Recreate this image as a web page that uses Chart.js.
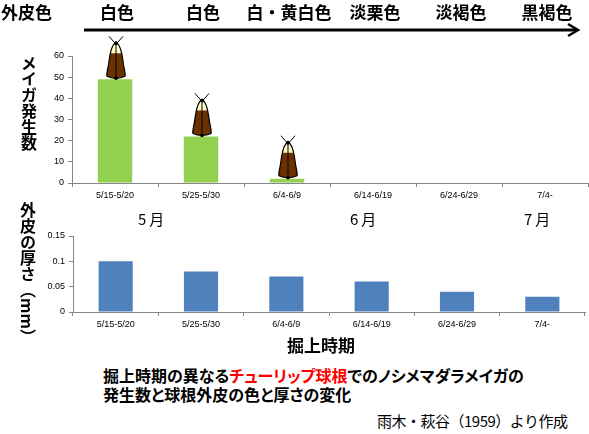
<!DOCTYPE html>
<html>
<head>
<meta charset="utf-8">
<script src="https://cdn.jsdelivr.net/npm/chart.js@4.4.1/dist/chart.umd.min.js"></script>
<style>
  html, body { margin: 0; padding: 0; background: #fff; }
  #wrap { position: relative; width: 589px; height: 434px; overflow: hidden; font-family: "Noto Sans CJK JP", sans-serif; }
  #wrap canvas { position: absolute; left: 0; }
  .txt { position: absolute; white-space: nowrap; color: #000; line-height: 1; font-feature-settings: "palt"; }
  .vert { writing-mode: vertical-rl; font-weight: bold; font-size: 16px; letter-spacing: 0px; }
  .month { font-size: 15px; letter-spacing: 3px; }
  .red { color: #ff0000; }
</style>
</head>
<body>
<div id="wrap">
  <canvas id="countChart"></canvas>
  <canvas id="skinChart"></canvas>

  <div class="txt vert" style="left:21px; top:55px;">メイガ発生数</div>
  <div class="txt vert" style="left:20px; top:202px;">外皮の厚さ（mm）</div>

  <div class="txt month" style="left:138px; top:211px;">5月</div>
  <div class="txt month" style="left:350px; top:211px;">6月</div>
  <div class="txt month" style="left:524px; top:211px;">7月</div>

  <div class="txt" style="left:287px; top:336px; font-size:17px; font-weight:bold;">掘上時期</div>

  <div class="txt" style="left:103px; top:367px; font-size:16px; font-weight:bold;">掘上時期の異なる<span class="red">チューリップ球根</span>でのノシメマダラメイガの</div>
  <div class="txt" style="left:103px; top:386px; font-size:16px; font-weight:bold;">発生数と球根外皮の色と厚さの変化</div>

  <div class="txt" style="left:377px; top:413px; font-size:15px; letter-spacing:-0.5px; font-feature-settings: normal;">雨木・萩谷（1959）より作成</div>
</div>

<script>
// 掘上時期
const periods = ["5/15-5/20", "5/25-5/30", "6/4-6/9", "6/14-6/19", "6/24-6/29", "7/4-"];
// 外皮色
const skinColours = ["白色", "白色", "白・黄白色", "淡栗色", "淡褐色", "黒褐色"];
// メイガ発生数
const mothCounts = [49, 22, 2, 0, 0, 0];
// 外皮の厚さ (mm)
const skinThickness = [0.10, 0.08, 0.07, 0.06, 0.04, 0.03];

const countMax = 60, countStep = 10;
const thickMax = 0.15, thickStep = 0.05;

const axisGrey = "#868686";
const tickFont = { family: "'Liberation Sans', Arial, sans-serif", size: 9 };

function setupCanvas(id, top, w, h) {
    const c = document.getElementById(id);
    c.style.top = top + "px";
    c.style.width = w + "px";
    c.style.height = h + "px";
    c.width = w;
    c.height = h;
    return c;
}

// moth drawn on top of each non-empty bar
function drawMoth(ctx, cx, y) {
    ctx.save();
    ctx.translate(cx + 1, y);

    const body = new Path2D();
    body.moveTo(0, -37);
    body.bezierCurveTo(-4, -35, -6, -26, -7, -18);
    body.bezierCurveTo(-8, -10, -10, -5, -9, -3);
    body.quadraticCurveTo(-5, -1, 0, -1);
    body.quadraticCurveTo(5, -1, 9, -3);
    body.bezierCurveTo(10, -5, 8, -10, 7, -18);
    body.bezierCurveTo(6, -26, 4, -35, 0, -37);
    body.closePath();

    ctx.fillStyle = "#6b3200";
    ctx.fill(body);
    ctx.save();
    ctx.clip(body);
    ctx.fillStyle = "#fff8c8";
    ctx.fillRect(-12, -40, 24, 14);
    ctx.restore();

    ctx.strokeStyle = "#000";
    ctx.lineWidth = 1.2;
    ctx.stroke(body);

    ctx.beginPath();
    ctx.moveTo(0, -36);
    ctx.lineTo(0, 0);
    ctx.moveTo(0, -35);
    ctx.lineTo(-7, -43);
    ctx.moveTo(0, -35);
    ctx.lineTo(7, -43);
    ctx.lineWidth = 1;
    ctx.stroke();

    ctx.fillStyle = "#000";
    ctx.beginPath();
    ctx.arc(0, -36, 2, 0, Math.PI * 2);
    ctx.fill();
    ctx.beginPath();
    ctx.arc(0, -1, 1.8, 0, Math.PI * 2);
    ctx.fill();
    ctx.restore();
}

const headerPlugin = {
    id: "header",
    afterDraw(chart) {
        const ctx = chart.ctx;
        const xs = chart.scales.x;
        ctx.save();
        ctx.fillStyle = "#000";
        ctx.font = "bold 17px 'Noto Sans CJK JP'";
        ctx.textBaseline = "middle";
        ctx.textAlign = "left";
        ctx.fillText("外皮色", 1, 13);
        ctx.textAlign = "center";
        skinColours.forEach((s, i) => {
            ctx.fillText(s, xs.getPixelForValue(i) + 2, 13);
        });

        // arrow
        ctx.strokeStyle = "#000";
        ctx.lineWidth = 3;
        ctx.beginPath();
        ctx.moveTo(84, 30);
        ctx.lineTo(577, 30);
        ctx.stroke();
        ctx.lineWidth = 2.5;
        ctx.lineJoin = "miter";
        ctx.beginPath();
        ctx.moveTo(568, 24);
        ctx.lineTo(578, 30);
        ctx.lineTo(568, 36);
        ctx.stroke();
        ctx.restore();
    },
    afterDatasetsDraw(chart) {
        const meta = chart.getDatasetMeta(0);
        meta.data.forEach((bar, i) => {
            if (mothCounts[i] > 0) drawMoth(chart.ctx, bar.x, bar.y);
        });
    }
};

function axes(max, step, yWidth, xHeight) {
    return {
        x: {
            grid: { display: true, drawOnChartArea: false, drawTicks: true, tickLength: 4, color: axisGrey },
            border: { display: true, color: axisGrey, width: 1 },
            ticks: { font: tickFont, color: "#000", padding: 3, maxRotation: 0, autoSkip: false },
            afterFit(s) { s.height = xHeight; }
        },
        y: {
            min: 0,
            max: max,
            grid: { display: true, drawOnChartArea: false, drawTicks: true, tickLength: 4, color: axisGrey },
            border: { display: true, color: axisGrey, width: 1 },
            ticks: {
                stepSize: step,
                font: tickFont,
                color: "#000",
                padding: 4,
                callback: (v) => String(parseFloat(Number(v).toFixed(2)))
            },
            afterFit(s) { s.width = yWidth; }
        }
    };
}

new Chart(setupCanvas("countChart", 0, 589, 210), {
    type: "bar",
    data: {
        labels: periods,
        datasets: [{
            data: mothCounts,
            backgroundColor: "#92d050",
            barPercentage: 0.4,
            categoryPercentage: 1
        }]
    },
    options: {
        responsive: false,
        animation: false,
        layout: { padding: { top: 56, right: 1, left: 0, bottom: 0 } },
        plugins: { legend: { display: false }, tooltip: { enabled: false } },
        scales: axes(countMax, countStep, 72, 27)
    },
    plugins: [headerPlugin]
});

new Chart(setupCanvas("skinChart", 222, 589, 120), {
    type: "bar",
    data: {
        labels: periods,
        datasets: [{
            data: skinThickness,
            backgroundColor: "#4f81bd",
            barPercentage: 0.4,
            categoryPercentage: 1
        }]
    },
    options: {
        responsive: false,
        animation: false,
        layout: { padding: { top: 14, right: 4, left: 0, bottom: 0 } },
        plugins: { legend: { display: false }, tooltip: { enabled: false } },
        scales: axes(thickMax, thickStep, 73, 30)
    }
});
</script>
</body>
</html>
